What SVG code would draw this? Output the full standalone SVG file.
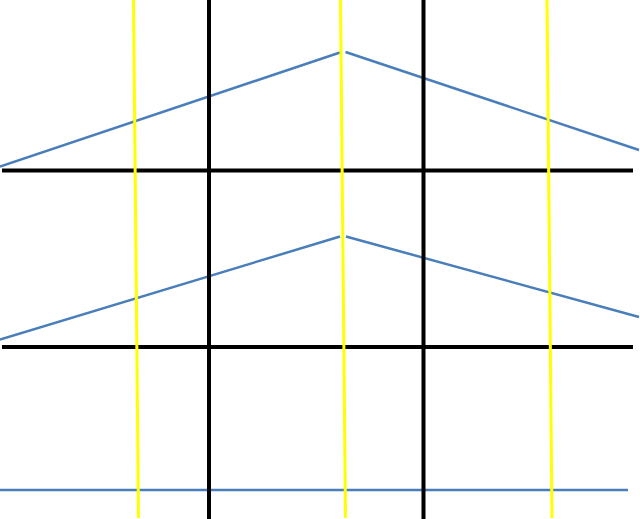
<svg xmlns="http://www.w3.org/2000/svg" width="640" height="519" viewBox="0 0 640 519">
<style>
.k{stroke:#000;stroke-width:4;fill:none}
.y{stroke:#ffff00;stroke-width:3;fill:none}
.b{stroke:#4a7ebb;stroke-width:2.5;fill:none}
</style>
<rect width="640" height="519" fill="#fff"/>
<g id="connectors">
<line class="k" x1="2" y1="170.5" x2="633" y2="170.5"/>
<line class="k" x1="2" y1="347" x2="633" y2="347"/>
<line class="b" x1="0" y1="166.5" x2="340" y2="52.5"/>
<line class="b" x1="345.5" y1="52" x2="639" y2="150"/>
<line class="b" x1="0" y1="339.5" x2="340" y2="236.5"/>
<line class="b" x1="346" y1="236.5" x2="639" y2="317"/>
<line class="b" x1="0" y1="490" x2="628" y2="490"/>
<line class="k" x1="209" y1="0" x2="209" y2="519"/>
<line class="k" x1="423.5" y1="0" x2="423.5" y2="519"/>
<line class="y" x1="133.5" y1="0" x2="138.5" y2="518"/>
<line class="y" x1="340.5" y1="0" x2="345.5" y2="518"/>
<line class="y" x1="547" y1="0" x2="552" y2="518"/>
</g>
</svg>
